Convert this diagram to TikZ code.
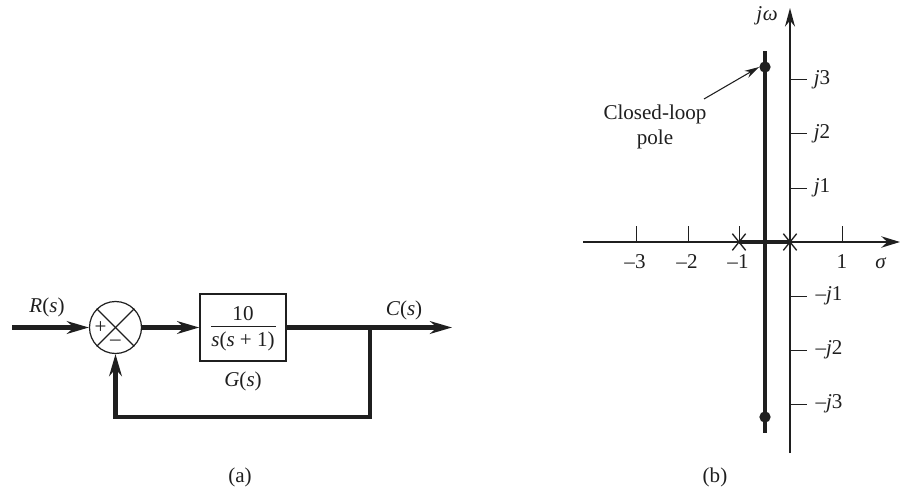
\documentclass[tikz,border=0pt]{standalone}
\usepackage{fontspec}
\setmainfont{Liberation Serif}
\usetikzlibrary{arrows.meta,shapes.misc}
\newcommand{\ital}[1]{\textit{#1}}
\tikzset{
  signal/.style={line width=3.1pt},
  locus/.style={line width=3.4pt},
  axisline/.style={line width=1.2pt},
  tickline/.style={line width=.7pt},
  lbl/.style={inner sep=0pt,font=\fontsize{15.8}{19}\selectfont},
  polemark/.style={cross out,draw,line width=1pt,inner sep=0pt,minimum width=9pt,minimum height=11.5pt},
  poledot/.style={circle,fill,inner sep=0pt,minimum size=8.5pt},
}
\begin{document}
\begin{tikzpicture}[
    % 按原图像素定坐标，y 向下
    x=0.75pt,
    y=-0.75pt,
    >={Stealth[length=16.5pt,width=9.5pt]},
    line join=miter,
    color=black!88,
  ]
  \useasboundingbox (0,0) rectangle (901,489);

  % (a) 方框图的节点
  \node[circle,draw,line width=.9pt,inner sep=0pt,minimum size=39pt] (sum) at (115.5,327.5) {};
  \node[draw,line width=1.1pt,inner sep=0pt,minimum width=64.5pt,minimum height=50pt,lbl] (plant) at (243,327.5) {};
  \node[lbl] (plantnum) at (243,313.5) {10};
  \node[lbl] (plantden) at (243,341) {\ital{s}(\ital{s} + 1)};
  \coordinate (ruleleft)  at (211,326.5);
  \coordinate (ruleright) at (276,326.5);
  \draw[line width=.6pt] (ruleleft) -- (ruleright);
  \coordinate (rin)    at (12,327.5);
  \coordinate (cout)   at (452,327.5);
  \coordinate (branch) at (370,327.5);
  \coordinate (fbr)    at (370,417);
  \coordinate (fbl)    at (115.5,417);

  % 比较点内的叉线和符号
  \draw[line width=.9pt] (sum.45) -- (sum.225);
  \draw[line width=.9pt] (sum.135) -- (sum.315);
  \node[lbl] (plus)  at (100.5,328) {+};
  \node[lbl] (minus) at (115.5,343) {–};

  % 信号线
  \draw[signal,->] (rin) -- (sum.west);
  \draw[signal,->] (sum.east) -- (plant.west);
  \draw[signal,->] (plant.east) -- (cout);
  \draw[signal,->] (branch) -- (fbr) -- (fbl) -- (sum.south);

  % (a) 的文字
  \node[lbl] (rlabel) at (47,307) {\ital{R}(\ital{s})};
  \node[lbl] (clabel) at (404,310) {\ital{C}(\ital{s})};
  \node[lbl] (glabel) at (243,381) {\ital{G}(\ital{s})};
  \node[lbl] (alabel) at (240,477) {(a)};

  % (b) 坐标轴
  \coordinate (origin) at (790,242);
  \coordinate (xleft)  at (583,242);
  \coordinate (xright) at (900,242);
  \coordinate (ytop)   at (790,8);
  \coordinate (ydown)  at (790,453);
  \draw[axisline,line width=1.5pt,->,>={Stealth[length=14pt,width=8.5pt]}] (xleft) -- (xright);
  \draw[axisline,->,>={Stealth[length=14pt,width=7.5pt]}] (ydown) -- (ytop);
  \node[lbl] (xname) at (881,263) {\ital{σ}};
  \node[lbl] (yname) at (767,16) {\ital{j}\kern.5pt\ital{ω}};

  % x 轴刻度
  \draw[tickline] (636,226) -- (636,242);
  \draw[tickline] (688,226) -- (688,242);
  \draw[tickline] (739,226) -- (739,242);
  \draw[tickline] (842,226) -- (842,242);
  \node[lbl] (xm3) at (635,262) {–3};
  \node[lbl] (xm2) at (687,262) {–2};
  \node[lbl] (xm1) at (738,262) {–1};
  \node[lbl] (xp1) at (842,262) {1};

  % y 轴刻度
  \draw[tickline] (790,79.5) -- (807,79.5);
  \draw[tickline] (790,133.5) -- (807,133.5);
  \draw[tickline] (790,188) -- (807,188);
  \draw[tickline] (790,296) -- (807,296);
  \draw[tickline] (790,350) -- (807,350);
  \draw[tickline] (790,404) -- (807,404);
  \node[lbl] (yp3) at (822,80) {\ital{j}3};
  \node[lbl] (yp2) at (822,134) {\ital{j}2};
  \node[lbl] (yp1) at (822,188) {\ital{j}1};
  \node[lbl] (ym1) at (829,296) {–\ital{j}1};
  \node[lbl] (ym2) at (829,350) {–\ital{j}2};
  \node[lbl] (ym3) at (829,404) {–\ital{j}3};

  % 根轨迹
  \coordinate (lctop) at (765,51);
  \coordinate (lcbot) at (765,433);
  \draw[locus] (lctop) -- (lcbot);
  \node[polemark] (pz) at (790,242) {};
  \node[polemark] (pm) at (739,242) {};
  \draw[locus] (pm.center) -- (pz.center);
  \node[poledot] (pup)  at (765,67) {};
  \node[poledot] (pdwn) at (765,417) {};

  % 闭环极点的标注
  \node[lbl,align=center,font=\fontsize{15.8}{18.8}\selectfont] (cltext) at (655,126.5) {Closed-loop\\pole};
  \coordinate (cltail) at (704,99);
  \draw[line width=.8pt,->,>={Stealth[length=11pt,width=6pt]}] (cltail) -- (pup.west);

  \node[lbl] (blabel) at (715,477) {(b)};
\end{tikzpicture}
\end{document}
